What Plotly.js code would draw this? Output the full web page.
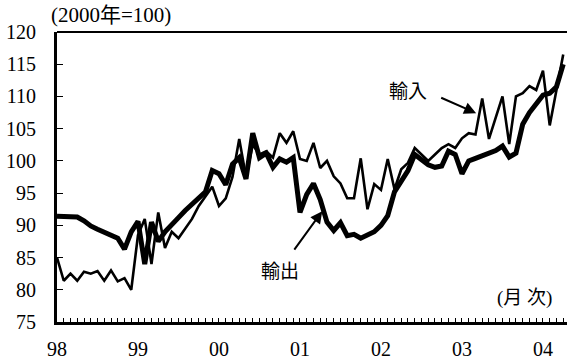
<!DOCTYPE html>
<html>
<head>
<meta charset="utf-8">
<script src="https://cdn.plot.ly/plotly-3.0.1.min.js"></script>
<style>html,body{margin:0;padding:0;background:#fff;}#chart{width:567px;height:361px;}</style>
</head>
<body>
<div id="chart"></div>
<script>
// Monthly series, Jan 1998 - Apr 2004 (2000 = 100)
const exportValues = [
  91.4, 91.4, 91.4, 91.3, 90.7, 89.9, 89.4, 89.0, 88.6, 88.0, 86.3, 89.0,
  90.6, 84.0, 90.5, 87.5, 89.0, 90.0, 91.2, 92.3, 93.3, 94.3, 95.2, 98.5,
  98.0, 96.3, 99.5, 100.5, 97.2, 104.3, 100.5, 101.2, 99.0, 100.3, 99.8, 100.5,
  92.0, 94.8, 96.5, 94.0, 90.5, 89.2, 90.4, 88.4, 88.6, 88.0, 88.4, 89.0,
  90.0, 91.5, 95.2, 96.8, 98.5, 101.0, 100.2, 99.4, 99.0, 99.2, 101.5, 101.0,
  98.0, 100.0, 100.4, 100.8, 101.2, 101.6, 102.3, 100.6, 101.2, 105.7, 107.5, 109.0,
  110.2, 110.5, 111.5, 115.0
];
const importValues = [
  85.0, 81.4, 82.5, 81.4, 82.8, 82.5, 82.9, 81.4, 83.0, 81.3, 81.8, 80.0,
  88.5, 91.0, 84.0, 92.0, 86.5, 89.0, 88.0, 89.5, 91.0, 93.0, 94.5, 96.0,
  93.0, 94.2, 97.5, 103.4, 97.5, 102.5, 101.0, 101.5, 100.5, 104.3, 102.8, 104.6,
  100.3, 100.0, 102.8, 98.9, 100.0, 97.6, 96.5, 94.2, 94.2, 100.4, 92.5, 96.4,
  95.5, 100.3, 95.6, 98.7, 99.7, 102.0, 101.0, 100.0, 101.0, 102.0, 102.6, 102.0,
  103.5, 104.3, 104.1, 109.7, 103.4, 106.7, 110.0, 102.6, 110.0, 110.5, 111.6, 111.0,
  114.0, 105.5, 110.8, 116.5
];
const yearTickPositions = [0, 12, 24, 36, 48, 60, 72];
const yearTickLabels = ['98', '99', '00', '01', '02', '03', '04'];
const yTickValues = [75, 80, 85, 90, 95, 100, 105, 110, 115, 120];

const monthIndex = exportValues.map((_, i) => i);

const serif = 'Liberation Serif, Times New Roman, serif';
const mixed = 'Liberation Serif, Noto Sans CJK JP, serif';
const cjk = 'Noto Sans CJK JP';

const traces = [
  {x: monthIndex, y: importValues, type: 'scatter', mode: 'lines',
   line: {color: '#000', width: 2.6}, name: '輸入'},
  {x: monthIndex, y: exportValues, type: 'scatter', mode: 'lines',
   line: {color: '#000', width: 5}, name: '輸出'}
];

const layout = {
  width: 567, height: 361,
  margin: {l: 57, r: 0, t: 32, b: 39},
  paper_bgcolor: '#fff', plot_bgcolor: '#fff',
  showlegend: false,
  font: {family: serif, color: '#000'},
  xaxis: {
    range: [0, 75.56],
    tickvals: yearTickPositions, ticktext: yearTickLabels,
    ticks: 'inside', ticklen: 4, tickwidth: 1, tickcolor: '#000',
    minor: {dtick: 1, tick0: 0, ticks: 'inside', ticklen: 4, tickwidth: 1, tickcolor: '#000'},
    showline: true, linecolor: '#000', linewidth: 3,
    showgrid: false, zeroline: false,
    ticklabelstandoff: 7,
    tickfont: {family: serif, size: 20, color: '#000'}
  },
  yaxis: {
    range: [75, 120],
    tickvals: yTickValues,
    ticks: 'inside', ticklen: 6, tickwidth: 1, tickcolor: '#000',
    showline: true, linecolor: '#000', linewidth: 3,
    showgrid: false, zeroline: false,
    ticklabelstandoff: 14,
    tickfont: {family: serif, size: 20, color: '#000'}
  },
  shapes: [
    {type: 'line', xref: 'paper', yref: 'paper', x0: 0, x1: 1, y0: 1, y1: 1,
     line: {color: '#000', width: 2}}
  ],
  annotations: [
    {xref: 'paper', yref: 'paper', x: -0.016, y: 1.058, xanchor: 'left', yanchor: 'middle',
     text: '(2000年=100)', showarrow: false,
     font: {family: mixed, size: 21, color: '#000'}},
    {xref: 'paper', yref: 'paper', x: 0.975, y: 0.083, xanchor: 'right', yanchor: 'middle',
     text: '(月 次)', showarrow: false,
     font: {family: mixed, size: 19, color: '#000'}},
    {x: 52, y: 111.1, text: '輸入', showarrow: false,
     font: {family: cjk, size: 19, color: '#000'}},
    {x: 33, y: 83.2, text: '輸出', showarrow: false,
     font: {family: cjk, size: 19, color: '#000'}},
    {x: 62.1, y: 107.4, ax: 56.7, ay: 109.9, axref: 'x', ayref: 'y', text: '',
     showarrow: true, arrowhead: 2, arrowsize: 1.2, arrowwidth: 2, arrowcolor: '#000'},
    {x: 39.3, y: 92.2, ax: 35.0, ay: 86.0, axref: 'x', ayref: 'y', text: '',
     showarrow: true, arrowhead: 2, arrowsize: 1.2, arrowwidth: 2, arrowcolor: '#000'}
  ]
};

Plotly.newPlot('chart', traces, layout, {displayModeBar: false, staticPlot: true});
</script>
</body>
</html>
